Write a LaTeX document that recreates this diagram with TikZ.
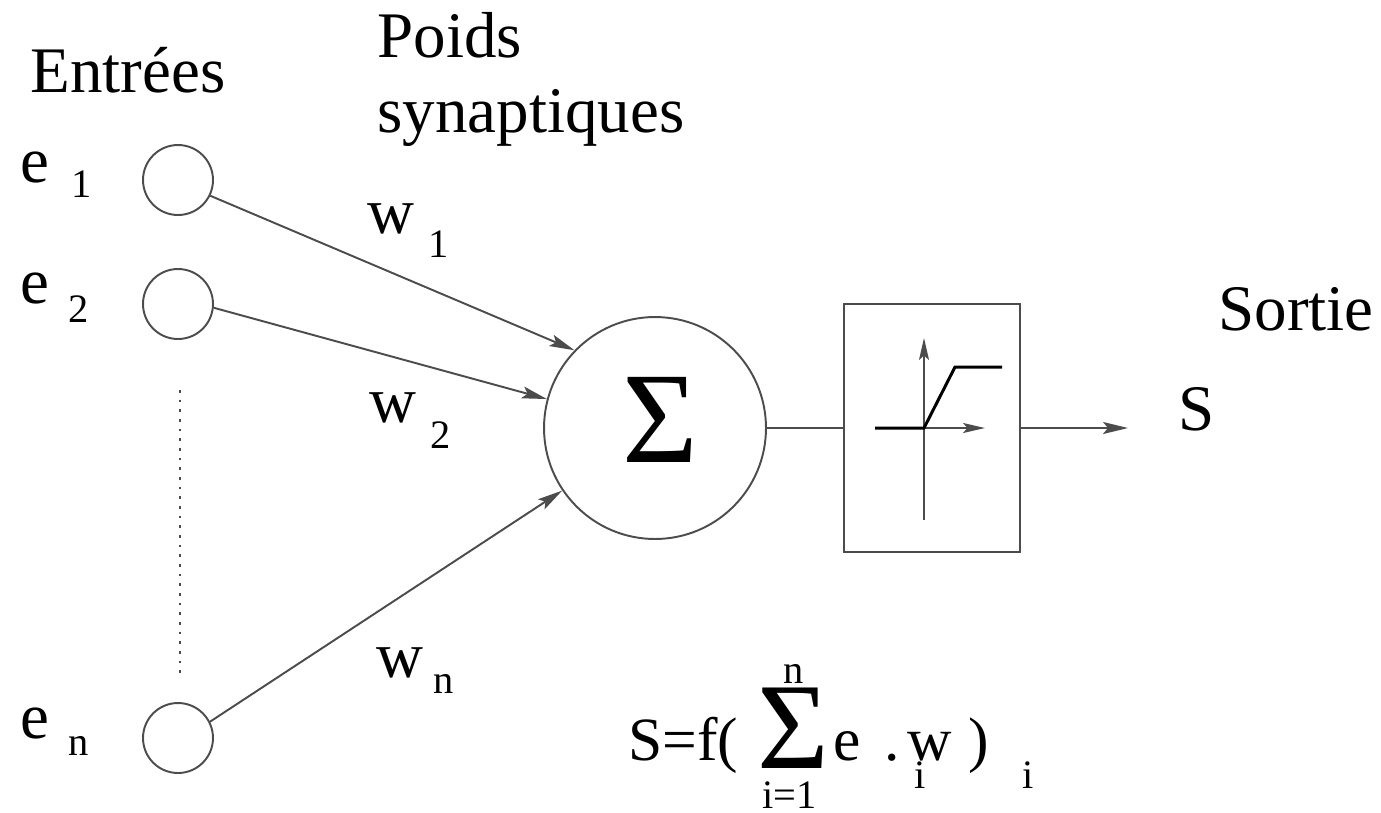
\documentclass[tikz,border=0pt]{standalone}
\usepackage{fontspec}
\setmainfont{Liberation Serif}
\usetikzlibrary{arrows.meta}
\definecolor{lc}{gray}{0.3}
\begin{document}
\begin{tikzpicture}[x=0.02cm,y=-0.02cm,
  big/.style={inner sep=0pt, anchor=base west, font=\fontsize{37}{40}\selectfont},
  fml/.style={inner sep=0pt, anchor=base west, font=\fontsize{35}{38}\selectfont},
  small/.style={inner sep=0pt, anchor=base west, font=\fontsize{23}{25}\selectfont},
  neuron/.style={circle, draw=lc, line width=1.1pt, minimum size=1.4cm, inner sep=0pt},
  wire/.style={draw=lc, line width=1.1pt},
  arr/.style={wire, -{Stealth[length=0.5cm, width=0.24cm, inset=0.1cm]}},
  sarr/.style={wire, -{Stealth[length=0.44cm, width=0.2cm, inset=0.09cm]}},
]
\useasboundingbox (0,0) rectangle (1381,812);

% headings
\node[big] (tin) at (30,92) {Entrées};
\node[big] (tpoids) at (377,57) {Poids};
\node[big] (tsyn) at (377,132) {synaptiques};
\node[big] (tsortie) at (1218,330) {Sortie};

% inputs
\node[neuron] (e1) at (178,180) {};
\node[neuron] (e2) at (178,304) {};
\node[neuron] (en) at (178,738) {};
\coordinate (dtop) at (180,390);
\coordinate (dbot) at (180,673);
\draw[draw=lc, line width=1pt, dash pattern=on 1.5pt off 4pt] (dtop) -- (dbot);

% summation and activation
\node[circle, draw=lc, line width=1.1pt, minimum size=4.44cm, inner sep=0pt] (sum) at (655,428) {};
\node[font=\fontsize{74}{74}\selectfont, inner sep=0pt] (sig) at (660,420) {Σ};
\node[draw=lc, line width=1.1pt, minimum width=3.52cm, minimum height=4.96cm, inner sep=0pt] (act) at (932,428) {};

% input labels
\node[big] (le1) at (20,182) {e};
\node[small] (le1s) at (71,197) {1};
\node[big] (le2) at (20,303) {e};
\node[small] (le2s) at (68,322) {2};
\node[big] (len) at (20,738) {e};
\node[small] (lens) at (68,755) {n};

% weight labels
\node[big] (lw1) at (367,233) {w};
\node[small] (lw1s) at (428,257) {1};
\node[big] (lw2) at (369,422) {w};
\node[small] (lw2s) at (430,448) {2};
\node[big] (lwn) at (376,677) {w};
\node[small] (lwns) at (433,693) {n};

% connectors
\draw[arr] (e1.-26) -- (sum.136);
\draw[arr] (e2.-6) -- (sum.165);
\draw[arr] (en.27) -- (sum.-146);
\draw[wire] (sum.east) -- (act.west);
\coordinate (out) at (1128,428);
\draw[arr] (act.east) -- (out);
\node[big] (s) at (1178,430) {S};

% activation function plot
\coordinate (vb) at (924,520);
\coordinate (vt) at (924,338);
\coordinate (hl) at (875,428);
\coordinate (hr) at (985,428);
\draw[sarr] (vb) -- (vt);
\draw[sarr] (hl) -- (hr);
\draw[line width=1.7pt, black] (hl) -- (924,428) -- (955,367) -- (1002,367);

% formula
\node[fml] (f1) at (628,760) {S=f(};
\node[inner sep=0pt, anchor=base west, font=\fontsize{70}{70}\selectfont] (fsig) at (757,768) {Σ};
\node[small] (fn) at (783,683) {n};
\node[small] (fi1) at (762,808) {i=1};
\node[fml] (fe) at (833,760) {e};
\node[fml] (fdot) at (884,760) {.};
\node[fml] (fw) at (907,760) {w};
\node[fml] (fp) at (968,760) {)};
\node[small] (fi2) at (914,788) {i};
\node[small] (fi3) at (1022,788) {i};
\end{tikzpicture}
\end{document}
